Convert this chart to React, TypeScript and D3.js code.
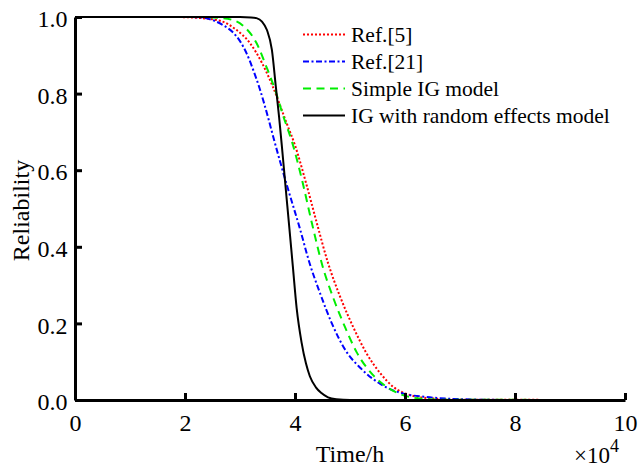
import React, { useEffect, useRef } from 'react'
import * as d3 from 'd3'

// time in units of 10^4 h
const ref5T = [0, 1.8, 2.2, 2.64, 2.9, 3.18, 3.4, 3.6, 3.85, 4.0, 4.2, 4.41, 4.6, 4.82, 5.06, 5.3, 5.55, 5.79, 6.09, 6.5, 7, 10]
const ref5R = [1, 1, 0.998, 0.99, 0.97, 0.932, 0.88, 0.817, 0.722, 0.665, 0.567, 0.455, 0.358, 0.27, 0.19, 0.122, 0.07, 0.034, 0.013, 0.004, 0.001, 0]

const ref21T = [0, 2, 2.27, 2.5, 2.7, 2.87, 3.0, 3.12, 3.24, 3.36, 3.51, 3.61, 3.73, 3.85, 4.08, 4.27, 4.45, 4.67, 4.94, 5.18, 5.55, 5.91, 6.45, 7.05, 8, 10]
const ref21R = [1, 1, 0.999, 0.992, 0.978, 0.96, 0.937, 0.905, 0.862, 0.812, 0.738, 0.684, 0.622, 0.562, 0.452, 0.355, 0.281, 0.2, 0.125, 0.085, 0.042, 0.019, 0.007, 0.002, 0, 0]

const simpleT = [0, 2.3, 2.6, 2.87, 3.05, 3.3, 3.48, 3.64, 3.79, 3.95, 4.14, 4.31, 4.5, 4.7, 4.91, 5.12, 5.42, 5.64, 5.87, 6.15, 6.6, 10]
const simpleR = [1, 1, 0.998, 0.992, 0.978, 0.932, 0.87, 0.809, 0.74, 0.672, 0.567, 0.46, 0.35, 0.265, 0.19, 0.125, 0.065, 0.037, 0.018, 0.006, 0.001, 0]

const randomT = [0, 2, 3, 3.2, 3.3, 3.4, 3.49, 3.58, 3.65, 3.71, 3.76, 3.82, 3.9, 3.96, 4.03, 4.12, 4.2, 4.27, 4.38, 4.48, 4.6, 4.75, 5, 10]
const randomR = [1, 1, 1, 0.999, 0.997, 0.988, 0.966, 0.914, 0.82, 0.74, 0.665, 0.57, 0.445, 0.35, 0.24, 0.15, 0.095, 0.062, 0.033, 0.018, 0.007, 0.002, 0, 0]

const xTicks = [0, 2, 4, 6, 8, 10]
const yTicks = [0, 0.2, 0.4, 0.6, 0.8, 1.0]

const series = [
  { name: 'Ref.[5]', t: ref5T, r: ref5R, color: '#ff0000', dash: '2,2' },
  { name: 'Ref.[21]', t: ref21T, r: ref21R, color: '#0000ff', dash: '6,2.5,2,2.5' },
  { name: 'Simple IG model', t: simpleT, r: simpleR, color: '#00ee00', dash: '8,5.5' },
  { name: 'IG with random effects model', t: randomT, r: randomR, color: '#000000', dash: null },
]

const FAMILY = 'Liberation Serif'

export default function App() {
  const ref = useRef<SVGSVGElement>(null)

  useEffect(() => {
    const width = 638
    const height = 468
    const margin = { top: 17, right: 13, bottom: 68, left: 75 }

    const svg = d3.select(ref.current)
    svg.selectAll('*').remove()

    const x = d3.scaleLinear().domain([0, 10]).range([margin.left, width - margin.right])
    const y = d3.scaleLinear().domain([0, 1]).range([height - margin.bottom, margin.top])

    const line = d3
      .line<[number, number]>()
      .x(d => x(d[0]))
      .y(d => y(d[1]))
      .curve(d3.curveMonotoneX)

    svg
      .append('g')
      .selectAll('path')
      .data(series)
      .join('path')
      .attr('fill', 'none')
      .attr('stroke', d => d.color)
      .attr('stroke-width', 2)
      .attr('stroke-dasharray', d => d.dash)
      .attr('d', d => line(d.t.map((t, i) => [t, d.r[i]] as [number, number])))

    const styleText = (sel, size = 24) =>
      sel.attr('font-family', FAMILY).attr('font-size', size).attr('fill', '#000')

    const xAxis = svg
      .append('g')
      .attr('transform', `translate(0,${height - margin.bottom})`)
      .call(
        d3
          .axisBottom(x)
          .tickValues(xTicks)
          .tickFormat(d3.format('d'))
          .tickSizeInner(-7)
          .tickSizeOuter(0)
          .tickPadding(14)
      )
    xAxis.attr('font-family', null).attr('font-size', null)
    xAxis.select('.domain').attr('stroke-width', 3)
    xAxis.selectAll('.tick line').attr('stroke-width', 3)
    xAxis.selectAll('text').call(styleText)

    const yAxis = svg
      .append('g')
      .attr('transform', `translate(${margin.left},0)`)
      .call(
        d3
          .axisLeft(y)
          .tickValues(yTicks)
          .tickFormat(d3.format('.1f'))
          .tickSizeInner(-7)
          .tickSizeOuter(0)
          .tickPadding(7.5)
      )
    yAxis.attr('font-family', null).attr('font-size', null)
    yAxis.select('.domain').attr('stroke-width', 3)
    yAxis.selectAll('.tick line').attr('stroke-width', 3)
    yAxis.selectAll('text').call(styleText).attr('dy', '0.4em')

    svg
      .append('text')
      .attr('x', (margin.left + width - margin.right) / 2)
      .attr('y', 462)
      .attr('text-anchor', 'middle')
      .call(styleText)
      .text('Time/h')

    svg
      .append('text')
      .attr('transform', `translate(29,${(margin.top + height - margin.bottom) / 2 + 2}) rotate(-90)`)
      .attr('text-anchor', 'middle')
      .call(styleText)
      .text('Reliability')

    const mult = svg.append('text').attr('x', 574).attr('y', 463).call(styleText, 23)
    mult.append('tspan').text('×10')
    mult.append('tspan').attr('dy', -11.5).attr('font-size', 18).text('4')

    const legend = svg
      .append('g')
      .selectAll('g')
      .data(series)
      .join('g')
      .attr('transform', (d, i) => `translate(303,${34.5 + i * 27})`)

    legend
      .append('line')
      .attr('x1', 0)
      .attr('x2', 42)
      .attr('stroke', d => d.color)
      .attr('stroke-width', 2)
      .attr('stroke-dasharray', d => d.dash)

    legend
      .append('text')
      .attr('x', 48)
      .attr('dy', '0.33em')
      .call(styleText, 21.5)
      .text(d => d.name)
  }, [])

  return (
    <svg
      ref={ref}
      width={638}
      height={468}
      style={{ position: 'absolute', left: 0, top: 0, background: '#fff' }}
    />
  )
}
